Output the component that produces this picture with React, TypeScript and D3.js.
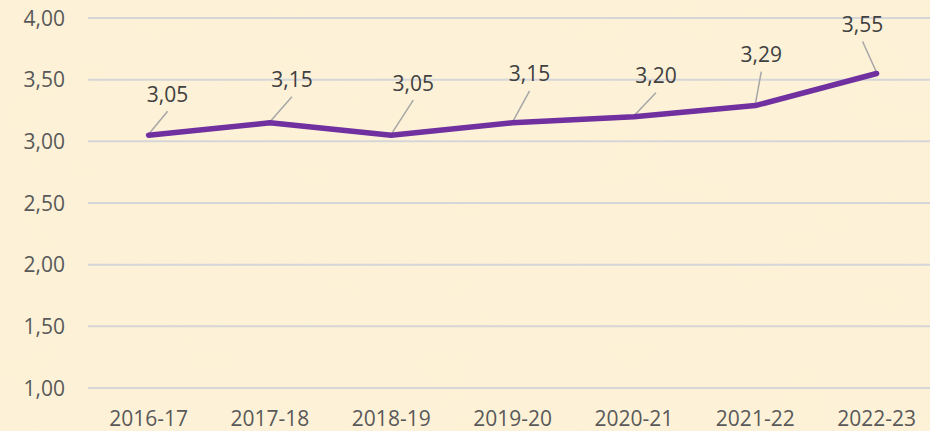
import React from "react";
import * as d3 from "d3";

const categories = ["2016-17", "2017-18", "2018-19", "2019-20", "2020-21", "2021-22", "2022-23"];
const values = [3.05, 3.15, 3.05, 3.15, 3.2, 3.29, 3.55];
const yTicks = [1.0, 1.5, 2.0, 2.5, 3.0, 3.5, 4.0];
// manual label placement (Excel-style moved labels), px offsets of label centre from point
const labelOffsets: [number, number][] = [
  [19, -41],
  [22, -43],
  [22, -52],
  [17, -49],
  [22, -41],
  [6, -51],
  [-14, -49],
];

const W = 930;
const H = 431;
const FONT = "'Open Sans', 'Noto Sans', sans-serif";
const TEXT = "#595959";
const FS = 21;

export default function App() {
  const x = d3.scalePoint<string>().domain(categories).range([148.6, 876.6]);
  const y = d3.scaleLinear().domain([1, 4]).range([388, 18]);
  const line = d3
    .line<number>()
    .x((_, i) => x(categories[i]) as number)
    .y((d) => y(d))
    .curve(d3.curveLinear);
  const fmt = (v: number) => v.toFixed(2).replace(".", ",");

  return (
    <svg
      width={W}
      height={H}
      style={{ position: "absolute", left: 0, top: 0, display: "block" }}
      fontFamily={FONT}
    >
      <defs>
        <filter id="paper" x="0" y="0" width="100%" height="100%">
          <feTurbulence type="fractalNoise" baseFrequency="0.012 0.02" numOctaves={4} seed={7} result="n" />
          <feColorMatrix
            type="matrix"
            values="0 0 0 0 0.97  0 0 0 0 0.86  0 0 0 0 0.62  1.6 0 0 0 -0.75"
          />
        </filter>
      </defs>
      <rect width={W} height={H} fill="#FDF2D8" />
      <rect width={W} height={H} filter="url(#paper)" opacity={0.45} />

      {yTicks.map((t) => (
        <g key={t}>
          <line x1={88} x2={W} y1={y(t)} y2={y(t)} stroke="#D5D6D8" strokeWidth={2} />
          <text x={65} y={y(t)} dy="0.36em" textAnchor="end" fontSize={FS} fill={TEXT}>
            {fmt(t)}
          </text>
        </g>
      ))}

      {categories.map((c) => (
        <text
          key={c}
          x={x(c) as number}
          y={418}
          dy="0.36em"
          textAnchor="middle"
          fontSize={FS}
          fill={TEXT}
        >
          {c}
        </text>
      ))}

      {values.map((v, i) => {
        const px = x(categories[i]) as number;
        const py = y(v);
        const [dx, dy] = labelOffsets[i];
        const lx = px + dx;
        const ly = py + dy;
        return (
          <line
            key={"l" + i}
            x1={lx}
            y1={ly + 17}
            x2={px}
            y2={py - 1}
            stroke="#A6A6A6"
            strokeWidth={1.5}
          />
        );
      })}

      <path
        d={line(values) as string}
        fill="none"
        stroke="#7030A0"
        strokeWidth={5.5}
        strokeLinejoin="round"
        strokeLinecap="round"
      />

      {values.map((v, i) => {
        const px = x(categories[i]) as number;
        const py = y(v);
        const [dx, dy] = labelOffsets[i];
        return (
          <text
            key={"t" + i}
            x={px + dx}
            y={py + dy}
            dy="0.36em"
            textAnchor="middle"
            fontSize={FS}
            fill="#404040"
          >
            {fmt(v)}
          </text>
        );
      })}
    </svg>
  );
}
